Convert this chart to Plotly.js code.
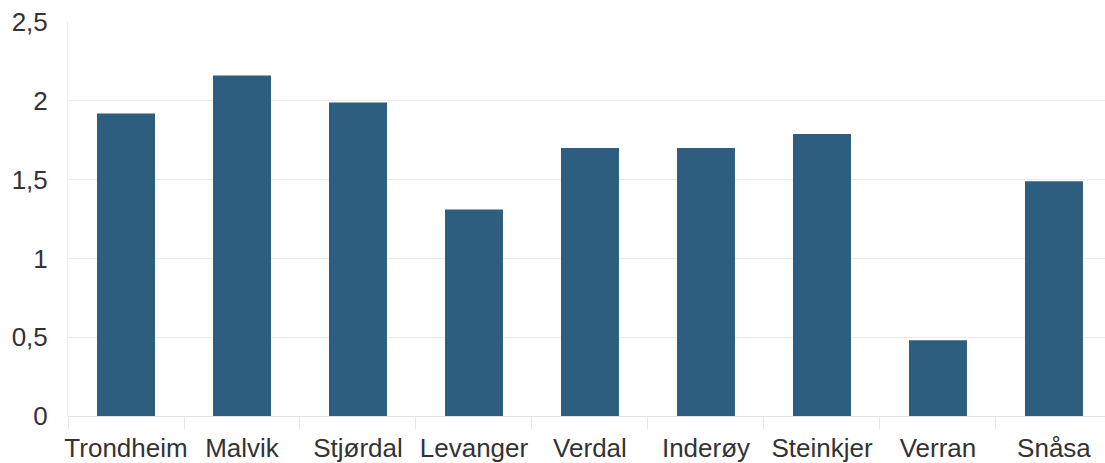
<!DOCTYPE html>
<html>
<head>
<meta charset="utf-8">
<script src="https://cdn.plot.ly/plotly-3.0.1.min.js"></script>
<style>html,body{margin:0;padding:0;background:#fff;}#chart{width:1105px;height:463px;}</style>
</head>
<body>
<div id="chart"></div>
<script>
const categories = ["Trondheim", "Malvik", "Stjørdal", "Levanger", "Verdal", "Inderøy", "Steinkjer", "Verran", "Snåsa"];
const values = [1.92, 2.16, 1.99, 1.31, 1.70, 1.70, 1.79, 0.48, 1.49];
const yTickVals = [0, 0.5, 1, 1.5, 2, 2.5];

const trace = {
  type: "bar",
  x: categories,
  y: values,
  marker: {color: "#2d5e7f"},
  hoverinfo: "x+y"
};

const layout = {
  width: 1105,
  height: 463,
  margin: {l: 68, r: 0, t: 22, b: 47},
  paper_bgcolor: "#ffffff",
  plot_bgcolor: "#ffffff",
  separators: ", ",
  bargap: 0.5,
  showlegend: false,
  font: {family: "Liberation Sans, Arial, sans-serif", size: 26, color: "#333333"},
  xaxis: {
    type: "category",
    range: [-0.5, 8.44],
    showgrid: false,
    ticks: "outside",
    tickson: "boundaries",
    ticklen: 12,
    tickcolor: "#e6e6e6",
    tickwidth: 1,
    tickangle: 0,
    ticklabelstandoff: 14,
    showline: false,
    tickfont: {size: 26, color: "#333333"}
  },
  yaxis: {
    range: [0, 2.5],
    tickvals: yTickVals,
    showgrid: true,
    gridcolor: "#ebebeb",
    gridwidth: 1,
    zeroline: true,
    zerolinecolor: "#e3e3e3",
    showline: true,
    linecolor: "#ececec",
    ticks: "outside",
    ticklen: 14,
    tickcolor: "rgba(0,0,0,0)",
    tickfont: {size: 26, color: "#333333"}
  }
};

Plotly.newPlot("chart", [trace], layout, {displayModeBar: false, staticPlot: true});
</script>
</body>
</html>
